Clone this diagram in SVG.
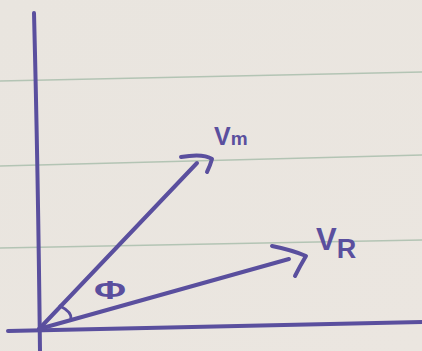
<svg xmlns="http://www.w3.org/2000/svg" width="422" height="351" viewBox="0 0 422 351">
<style>
.rule{stroke:#b3c4b4;stroke-width:1.6;fill:none}
.ink{stroke:#5a4f9e;stroke-width:4;fill:none;stroke-linecap:round;stroke-linejoin:round}
.lbl{fill:#5a4f9e;font-family:"Liberation Sans","DejaVu Sans",sans-serif;font-weight:bold}
</style>
<defs>
<linearGradient id="paper" x1="0" y1="0" x2="1" y2="1">
<stop offset="0" stop-color="#e9e5df"/>
<stop offset="1" stop-color="#ebe6e0"/>
</linearGradient>
</defs>
<rect width="422" height="351" fill="url(#paper)"/>
<g id="ruled-lines">
<line class="rule" x1="0" y1="81" x2="422" y2="72"/>
<line class="rule" x1="0" y1="166" x2="422" y2="155"/>
<line class="rule" x1="0" y1="248" x2="422" y2="240"/>
</g>
<g id="axes">
<path class="ink" d="M34 13 Q38 170 40 351"/>
<path class="ink" d="M8 331 L422 322"/>
</g>
<g id="connectors">
<g id="vector-Vm">
<path class="ink" d="M39 329 L197 163"/>
<path class="ink" d="M181 157 Q203 153 212 159 Q210 166 207 172"/>
</g>
<g id="vector-VR">
<path class="ink" d="M272 246 Q292 250 306 256 Q300 266 295 276"/>
<path class="ink" d="M39 329 L289 259"/>
</g>
<g id="angle-arc">
<path class="ink" style="stroke-width:3" d="M60 306 Q72 312 71 319"/>
</g>
</g>
<g id="label-Vm">
<text class="lbl" x="214" y="145" font-size="25">V<tspan font-size="19" dy="0">m</tspan></text>
</g>
<g id="label-VR">
<text class="lbl" x="316" y="250" font-size="31">V<tspan font-size="27" dy="8">R</tspan></text>
</g>
<g id="label-phi">
<text class="lbl" x="0" y="0" font-size="30" font-weight="normal" transform="translate(110 299) scale(1.3 0.85)" text-anchor="middle">Φ</text>
</g>
</svg>
